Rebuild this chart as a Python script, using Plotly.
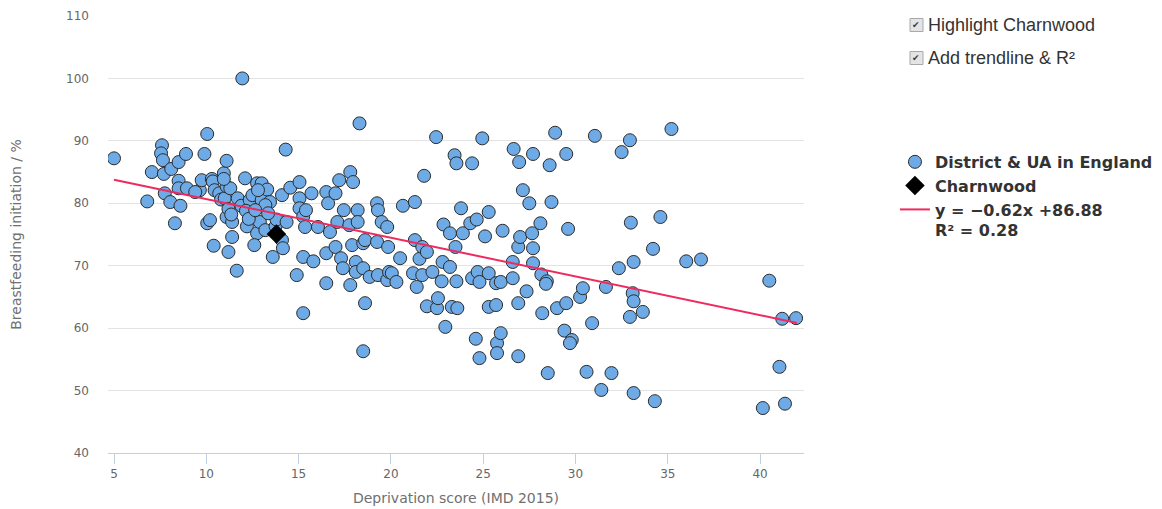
import plotly.graph_objects as go

# Deprivation score (IMD 2015) and breastfeeding initiation (%) for districts & UAs
district_x = [
    5.0, 6.8, 7.05, 7.6, 7.55, 7.65, 7.7, 8.1, 8.5, 8.9, 7.75, 8.05, 8.3, 8.6, 8.5, 8.5, 8.95, 9.65, 9.75, 9.9, 9.4,
    10.05, 10.05, 10.2, 10.3, 10.35, 10.45, 10.4, 10.7, 10.8, 10.95, 11.1, 11.0, 11.1, 11.3, 11.1, 11.4, 11.2, 11.4,
    11.2, 11.65, 11.7, 11.35, 11.95, 10.95, 11.9,
    12.1, 12.35, 12.2, 12.15, 12.5, 12.75, 12.75, 12.6, 13.0, 13.0, 12.9, 13.2, 13.3, 13.45, 13.2, 13.6, 13.75, 13.8,
    12.3, 12.8, 12.65, 13.35,
    14.1, 14.1, 14.15, 14.35, 14.3, 14.55, 14.9, 15.05, 15.05, 15.05, 15.25, 15.25, 15.25, 15.35, 15.7, 15.8, 16.05,
    15.4,
    16.5, 16.5, 16.5, 16.6, 16.7, 17.0, 17.0, 17.1, 17.2, 17.3, 17.4, 17.45, 17.8, 17.75, 17.8, 17.9, 17.95,
    18.1, 18.1, 18.2, 18.2, 18.3, 18.5, 18.5, 18.5, 18.6, 18.6, 18.85, 19.25, 19.3, 19.25, 19.3, 19.5, 19.8, 19.85,
    19.8, 19.9,
    20.05, 20.3, 20.5, 20.65, 21.2, 21.3, 21.3, 21.4, 21.55, 21.7, 21.7, 21.8, 21.95, 21.95,
    22.25, 22.45, 22.5, 22.55, 22.75, 22.8, 22.85, 22.95, 23.2, 23.2, 23.3, 23.45, 23.55, 23.5, 23.55, 23.6, 23.8, 23.9,
    24.3, 24.4, 24.4, 24.65, 24.6, 24.7, 24.8, 24.8, 24.95, 25.1, 25.3, 25.3, 25.3, 25.7, 25.7, 25.75, 25.75, 25.95,
    25.95,
    26.05, 26.6, 26.6, 26.65, 26.9, 26.9, 26.9, 26.95, 27.0, 27.15, 27.35, 27.5, 27.7, 27.7, 27.7, 27.65, 28.1,
    28.15, 28.45, 28.4, 28.2, 28.5, 28.6, 28.7, 28.9, 29.0, 29.5, 29.5, 29.4, 29.6, 29.8, 29.7,
    30.25, 30.4, 30.6, 30.9, 31.05, 31.4, 31.65, 31.95, 32.35, 32.5, 32.95, 32.95, 33.0, 33.1, 33.15, 33.15, 33.15,
    33.65, 34.2, 34.3, 34.6, 35.2, 36.0, 36.8, 40.5, 40.15, 41.05, 41.2, 41.35, 41.95,
]
district_y = [
    87.2, 80.3, 85.0, 89.3, 88.0, 86.9, 84.7, 85.5, 86.6, 87.9, 81.6, 80.2, 76.8, 79.6, 83.6, 82.4, 82.4, 82.1, 83.7, 87.9, 81.8,
    91.1, 76.8, 77.3, 83.9, 83.5, 82.1, 73.2, 81.6, 80.6, 84.8, 86.8, 80.8, 82.7, 82.4, 77.8, 77.0, 79.1, 74.6,
    72.2, 69.2, 80.8, 78.2, 100.0, 83.9, 79.6,
    84.0, 80.5, 76.3, 78.8, 81.3, 83.2, 75.2, 73.3, 83.2, 80.5, 77.0, 75.7, 82.2, 80.2, 79.7, 71.4, 76.3, 77.4,
    77.5, 82.1, 78.9, 78.4,
    81.3, 74.1, 72.8, 77.0, 88.6, 82.5, 68.5, 83.4, 80.8, 79.2, 77.9, 62.4, 71.4, 76.2, 81.6, 70.7, 76.2,
    78.9,
    81.8, 72.0, 67.2, 80.0, 75.4, 81.6, 73.0, 77.0, 83.7, 71.2, 69.6, 78.9, 85.0, 76.5, 66.9, 73.3, 83.4,
    70.6, 69.0, 78.9, 77.0, 92.8, 73.6, 69.6, 56.3, 74.1, 64.0, 68.2, 80.0, 78.9, 73.8, 68.5, 77.0, 76.2, 73.0,
    67.7, 69.0,
    68.8, 67.4, 71.2, 79.6, 68.8, 80.2, 74.1, 66.6, 71.1, 73.0, 68.5, 84.4, 72.2, 63.5,
    69.0, 90.6, 63.2, 64.8, 67.5, 70.6, 76.6, 60.2, 75.2, 69.8, 63.4, 87.7, 86.4, 73.0, 67.5, 63.2, 79.2, 75.2,
    76.8, 86.4, 68.0, 77.4, 58.3, 69.0, 67.4, 55.2, 90.4, 74.7, 78.6, 68.8, 63.4, 67.2, 63.7, 57.6, 56.0, 59.2,
    67.4,
    75.6, 70.6, 68.0, 88.7, 73.0, 64.0, 55.5, 86.6, 74.6, 82.1, 65.9, 80.0, 87.9, 72.8, 70.4, 75.2, 76.8,
    68.6, 67.5, 67.1, 62.4, 52.8, 86.1, 80.2, 91.3, 63.2, 87.9, 64.0, 59.6, 75.9, 58.1, 57.6,
    65.0, 66.4, 53.0, 60.8, 90.8, 50.1, 66.6, 52.8, 69.6, 88.2, 90.1, 61.8, 76.9, 65.6, 64.3, 70.6, 49.6,
    62.6, 72.7, 48.3, 77.8, 91.9, 70.7, 71.0, 67.6, 47.2, 53.8, 61.5, 47.9, 61.6,
]

# Highlighted district
charnwood_x = [13.8]
charnwood_y = [75.1]

# Linear trendline coefficients and R²
trend_slope = -0.62
trend_intercept = 86.88
trend_r2 = 0.28
trend_x = [5.0, 42.0]
trend_y = [trend_slope * x + trend_intercept for x in trend_x]

x_ticks = [5, 10, 15, 20, 25, 30, 35, 40]
y_ticks = [40, 50, 60, 70, 80, 90, 100, 110]

FONT = "DejaVu Sans"

fig = go.Figure()
fig.add_trace(go.Scatter(
    x=district_x, y=district_y, mode="markers", name="District & UA in England",
    marker=dict(size=13, color="#6EABE6", line=dict(color="#2b2b2b", width=1)),
))
fig.add_trace(go.Scatter(
    x=charnwood_x, y=charnwood_y, mode="markers", name="Charnwood",
    marker=dict(size=15, symbol="diamond", color="#000000", line=dict(width=0)),
))
fig.add_trace(go.Scatter(
    x=trend_x, y=trend_y, mode="lines",
    name=f"y = \u22120.62x +86.88<br>R\u00b2 = {trend_r2:.2f}",
    line=dict(color="#EE2A5E", width=2),
))

fig.update_layout(
    width=1162, height=509,
    margin=dict(l=108, r=358, t=16, b=56, pad=0, autoexpand=False),
    paper_bgcolor="white", plot_bgcolor="white",
    font=dict(family=FONT, color="#666666"),
    showlegend=True,
    legend=dict(
        x=1.1307, y=0.705, xanchor="left", yanchor="top", valign="top",
        font=dict(family=FONT, size=16, color="#333333", weight="bold"),
        bgcolor="rgba(0,0,0,0)", itemclick=False, itemdoubleclick=False,
        tracegroupgap=0,
    ),
    xaxis=dict(
        range=[4.675, 42.38], tickvals=x_ticks, ticks="outside", ticklen=10,
        tickcolor="#C0D0E0", tickwidth=1, showline=True, linecolor="#C0D0E0",
        linewidth=1, showgrid=False, zeroline=False, automargin=False,
        tickfont=dict(size=12, color="#666666"),
        title=dict(text="Deprivation score (IMD 2015)", font=dict(size=14, color="#707070"), standoff=12),
    ),
    yaxis=dict(
        range=[40, 110], tickvals=y_ticks, showgrid=True, gridcolor="#E3E3E3",
        gridwidth=1, zeroline=False, showline=False, ticks="", automargin=False,
        ticklabelstandoff=18,
        tickfont=dict(size=12, color="#666666"),
        title=dict(text="Breastfeeding initiation / %", font=dict(size=14, color="#707070"), standoff=41),
    ),
)

# Option checkboxes shown beside the chart
def px_x(p):
    return (p - 108) / 696.0


def px_y(p):
    return (453 - p) / 437.0


for label, cy in [("Highlight Charnwood", 25), ("Add trendline & R\u00b2", 58)]:
    fig.add_shape(
        type="rect", xref="paper", yref="paper",
        x0=px_x(910), x1=px_x(923), y0=px_y(cy + 6.5), y1=px_y(cy - 6.5),
        fillcolor="#E4E4E4", line=dict(color="#A8A8A8", width=1),
    )
    fig.add_annotation(
        xref="paper", yref="paper", x=px_x(916.5), y=px_y(cy), text="\u2714",
        showarrow=False, xanchor="center", yanchor="middle",
        font=dict(family=FONT, size=9, color="#3a3a3a"),
    )
    fig.add_annotation(
        xref="paper", yref="paper", x=px_x(926), y=px_y(cy), text=label,
        showarrow=False, xanchor="left", yanchor="middle",
        font=dict(family="Liberation Sans", size=18, color="#333333"),
    )

fig.write_html("out.html")
